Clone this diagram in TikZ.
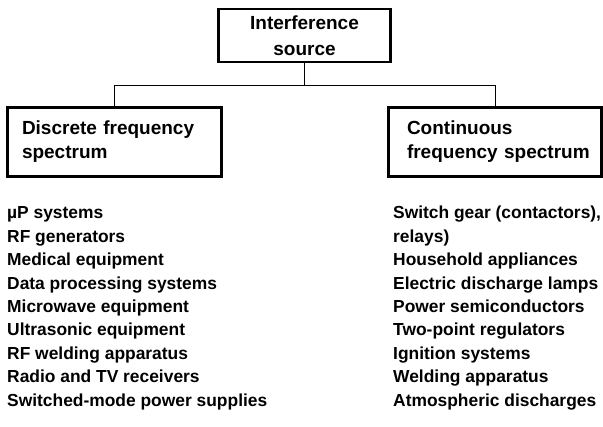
\documentclass[tikz,border=0pt]{standalone}
\usepackage{fontspec}
\setmainfont{Liberation Sans}
\begin{document}
\begin{tikzpicture}[x=1pt,y=-1pt,
  every node/.style={font=\fontsize{17.4}{23.4}\selectfont\bfseries},
  boxfont/.style={font=\fontsize{19}{24}\selectfont\bfseries},
  box/.style={draw,line width=2.4pt,inner sep=0pt,boxfont},
  link/.style={line width=0.9pt},
  listtext/.style={anchor=base west,align=left,inner sep=0pt}]
\useasboundingbox (0,0) rectangle (603,427);
\node[box,minimum width=172pt,minimum height=53pt,align=center,font=\fontsize{19}{26}\selectfont\bfseries] (src) at (304.5,35.5) {Interference\\source};
\node[box,minimum width=214pt,minimum height=69pt,text width=185pt,align=left] (disc) at (114.5,142) {\mbox{Discrete frequency}\\spectrum};
\node[box,minimum width=213pt,minimum height=69pt,text width=176pt,align=left] (cont) at (495,142) {Continuous\\\mbox{frequency spectrum}};
\coordinate (j) at (src.south |- 0,85);
\draw[link] (src.south) -- (j);
\draw[link] (disc.north) -- (disc.north |- j) -- (cont.north |- j) -- (cont.north);
\node[listtext] (dlist) at (7,406.2) {µP systems\\RF generators\\Medical equipment\\Data processing systems\\Microwave equipment\\Ultrasonic equipment\\RF welding apparatus\\Radio and TV receivers\\Switched-mode power supplies};
\node[listtext] (clist) at (393,406.2) {Switch gear (contactors),\\relays)\\Household appliances\\Electric discharge lamps\\Power semiconductors\\Two-point regulators\\Ignition systems\\Welding apparatus\\Atmospheric discharges};
\end{tikzpicture}
\end{document}
